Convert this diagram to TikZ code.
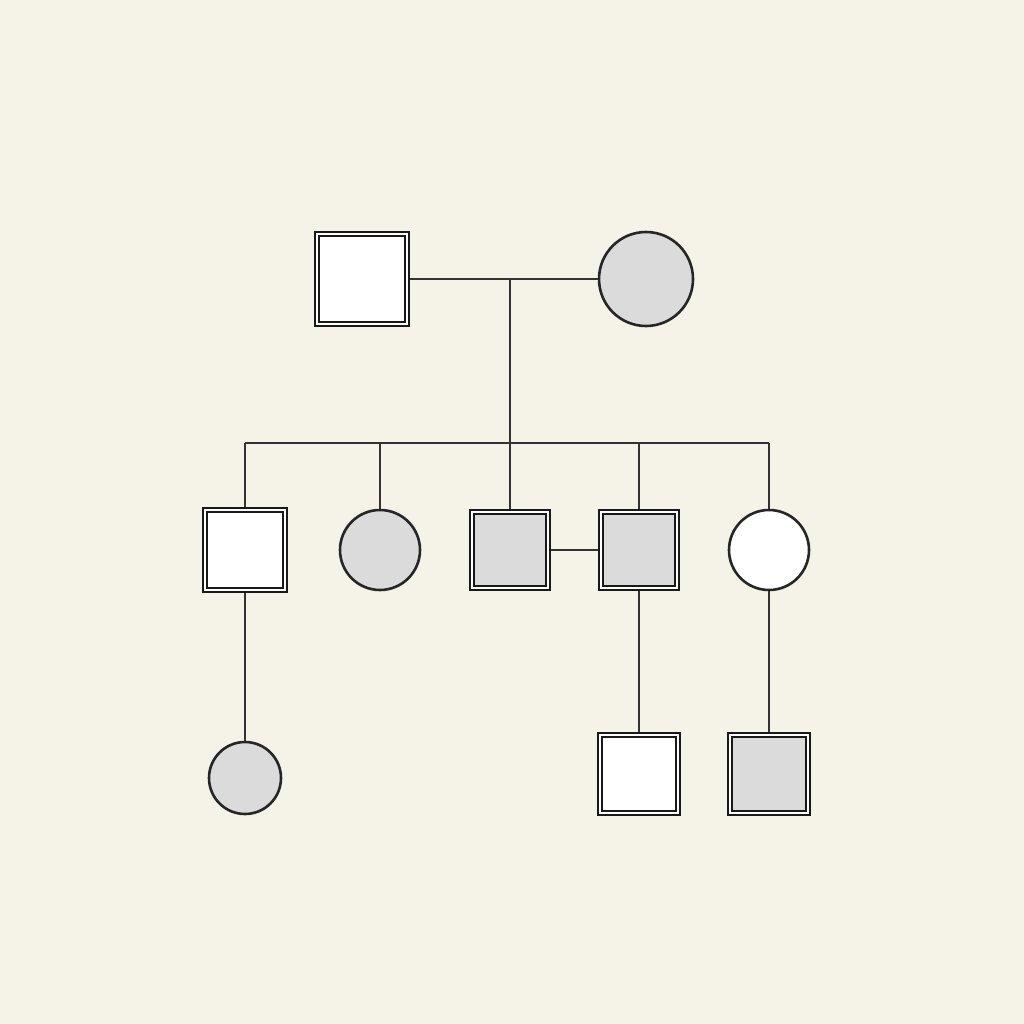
\documentclass[tikz,border=0pt]{standalone}
\begin{document}
\begin{tikzpicture}[x=1pt,y=-1pt,
  sq/.style={draw=black!90,double=white,double distance=1.8pt,line width=1.7pt,minimum size=#1,inner sep=0pt,fill=white},
  gsq/.style={sq=#1,fill=black!14},
  ci/.style={circle,draw=black!85,line width=2.6pt,minimum size=#1,inner sep=0pt,fill=white},
  gci/.style={ci=#1,fill=black!14},
  ln/.style={draw=black!80,line width=1.3pt}]
\fill[fill={rgb,255:red,245;green,242;blue,232}] (0,0) rectangle (1024,1024);
\useasboundingbox (0,0) rectangle (1024,1024);
\coordinate (mj) at (510,279);
\coordinate (sj) at (510,443);
\coordinate (sl) at (245,443);
\coordinate (sr) at (769,443);
\coordinate (s2) at (380,443);
\coordinate (s4) at (639,443);
\draw[ln] (362,279) -- (646,279);
\draw[ln] (mj) -- (sj);
\draw[ln] (sl) -- (sr);
\draw[ln] (sl) -- (245,778);
\draw[ln] (s2) -- (380,550);
\draw[ln] (sj) -- (510,550);
\draw[ln] (s4) -- (639,774);
\draw[ln] (sr) -- (769,774);
\draw[ln] (510,550) -- (639,550);
\node[sq=90pt] (f) at (362,279) {};
\node[gci=94pt] (m) at (646,279) {};
\node[sq=80pt] (c1) at (245,550) {};
\node[gci=80pt] (c2) at (380,550) {};
\node[gsq=76pt] (c3) at (510,550) {};
\node[gsq=76pt] (c4) at (639,550) {};
\node[ci=80pt] (c5) at (769,550) {};
\node[gci=72pt] (g1) at (245,778) {};
\node[sq=78pt] (g2) at (639,774) {};
\node[gsq=78pt] (g3) at (769,774) {};
\end{tikzpicture}
\end{document}
